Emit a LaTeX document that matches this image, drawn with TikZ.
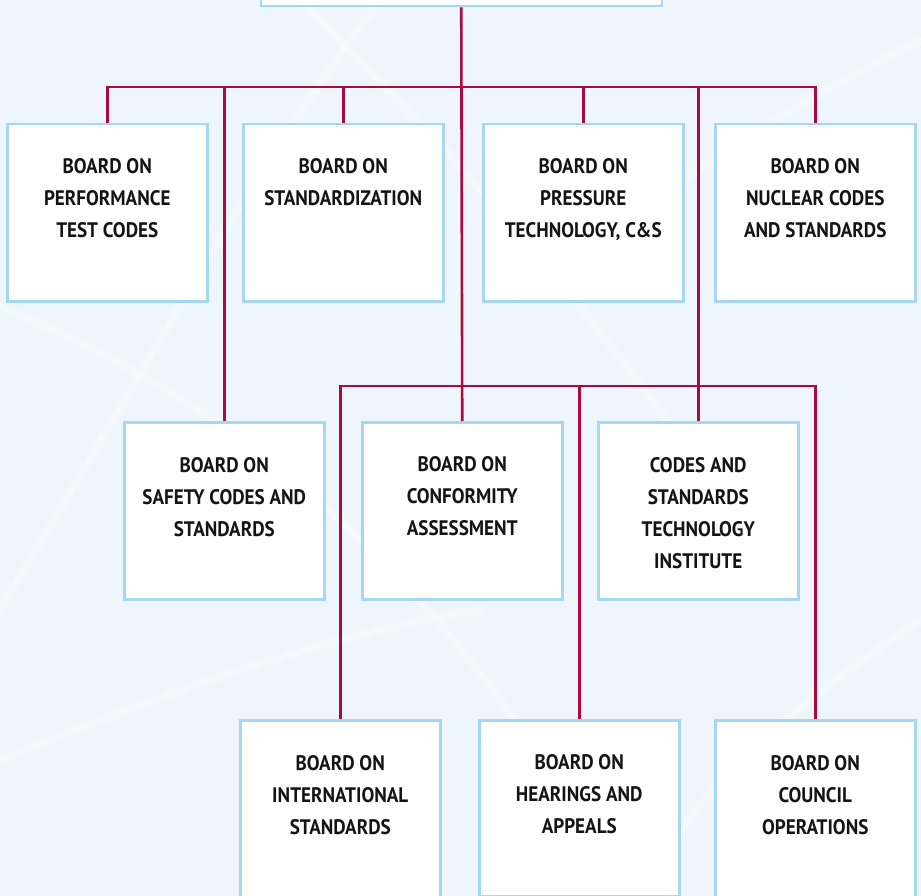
\documentclass[tikz,border=0pt]{standalone}
\usepackage{fontspec}
\setmainfont{PT Sans}[FakeStretch=0.91]
\definecolor{bgblue}{RGB}{238,245,252}
\definecolor{boxblue}{RGB}{166,214,242}
\definecolor{linkred}{RGB}{172,10,62}
\definecolor{txt}{RGB}{20,20,20}
\begin{document}
\begin{tikzpicture}[x=1pt,y=-1pt,
  box/.style={draw=boxblue, line width=2.5pt, fill=white, minimum width=200pt, minimum height=177pt, inner sep=0pt, anchor=north west},
  lbl/.style={font=\bfseries\fontsize{21}{32}\selectfont, align=center, anchor=north, inner sep=0pt, text=txt},
  link/.style={draw=linkred, line width=2.6pt},
  streak/.style={draw=white, line width=8pt, opacity=0.3, line cap=round}]
\useasboundingbox (0,0) rectangle (921,896);
\clip (0,0) rectangle (921,896);
\fill[bgblue] (0,0) rectangle (921,896);
% faint background streaks
\draw[streak] (-20,640) .. controls (120,420) and (230,200) .. (380,0);
\draw[streak] (300,0) .. controls (420,120) and (620,330) .. (760,560);
\draw[streak] (921,40) .. controls (760,120) and (620,220) .. (520,300);
\draw[streak] (-20,300) .. controls (200,380) and (450,560) .. (620,896);
\draw[streak] (921,620) .. controls (800,700) and (700,780) .. (640,896);
\draw[streak] (0,760) .. controls (150,700) and (300,640) .. (480,610);
% boxes
\node[box, minimum width=401pt, minimum height=40pt] (top) at (259.5,-35) {};
\node[box] (b1) at (6,123) {};
\node[box] (b2) at (242,123) {};
\node[box] (b3) at (482,123) {};
\node[box] (b4) at (714,123) {};
\node[box] (c1) at (123,421) {};
\node[box] (c2) at (361,421) {};
\node[box] (c3) at (597,421) {};
\node[box, minimum height=200pt] (d1) at (239,719) {};
\node[box, minimum height=176pt] (d2) at (478,719) {};
\node[box, minimum height=200pt] (d3) at (714,719) {};
% connectors
\coordinate (bus1) at (461,87);
\coordinate (bus2) at (461,386);
\draw[link] (b1.north) |- (bus1) -| (b4.north);
\draw[link] (top.south) -- (c2.north);
\draw[link] (b2.north) -- (b2.north |- bus1);
\draw[link] (b3.north) -- (b3.north |- bus1);
\draw[link] (c1.north) -- (c1.north |- bus1);
\draw[link] (c3.north) -- (c3.north |- bus1);
\draw[link] (d1.north) |- (bus2) -| (d3.north);
\draw[link] (d2.north) -- (d2.north |- bus2);
% labels
\node[lbl] (tb1) at ([yshift=-35pt]b1.north) {BOARD ON\\PERFORMANCE\\TEST CODES};
\node[lbl] (tb2) at ([yshift=-35pt]b2.north) {BOARD ON\\STANDARDIZATION};
\node[lbl] (tb3) at ([yshift=-35pt]b3.north) {BOARD ON\\PRESSURE\\TECHNOLOGY, C\&S};
\node[lbl] (tb4) at ([yshift=-35pt]b4.north) {BOARD ON\\NUCLEAR CODES\\AND STANDARDS};
\node[lbl] (tc1) at ([yshift=-36pt]c1.north) {BOARD ON\\SAFETY CODES AND\\STANDARDS};
\node[lbl] (tc2) at ([yshift=-35pt]c2.north) {BOARD ON\\CONFORMITY\\ASSESSMENT};
\node[lbl] (tc3) at ([yshift=-36pt]c3.north) {CODES AND\\STANDARDS\\TECHNOLOGY\\INSTITUTE};
\node[lbl] (td1) at ([yshift=-36pt]d1.north) {BOARD ON\\INTERNATIONAL\\STANDARDS};
\node[lbl] (td2) at ([yshift=-35pt]d2.north) {BOARD ON\\HEARINGS AND\\APPEALS};
\node[lbl] (td3) at ([yshift=-36pt]d3.north) {BOARD ON\\COUNCIL\\OPERATIONS};
\end{tikzpicture}
\end{document}
